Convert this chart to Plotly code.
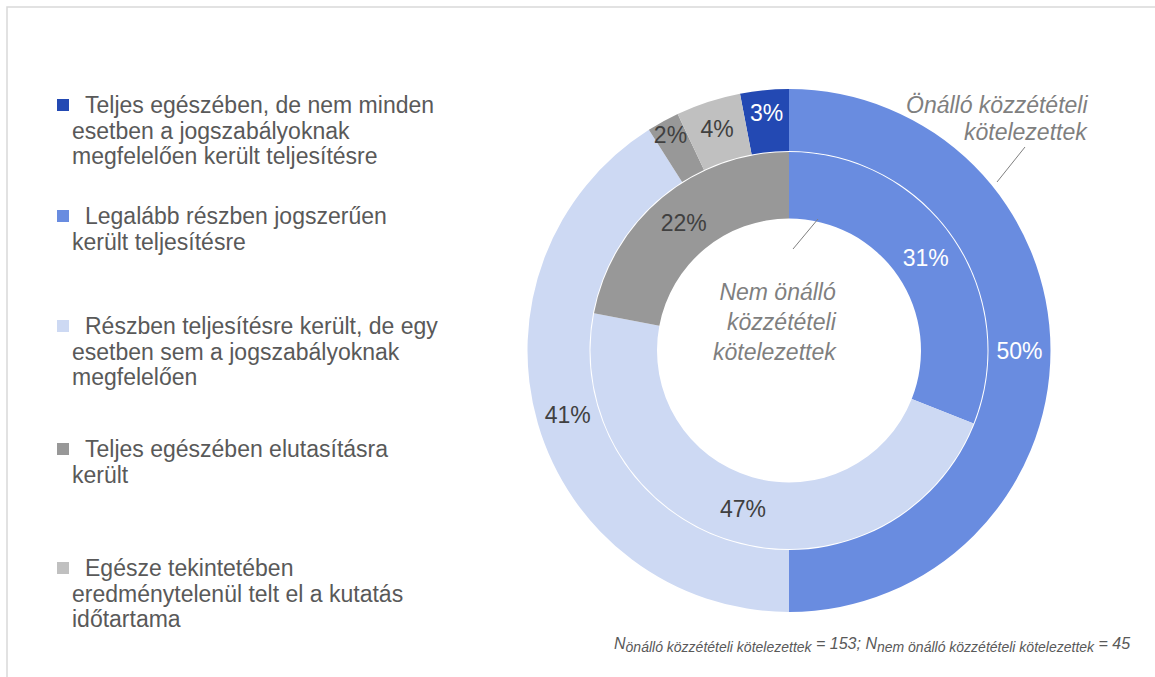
import plotly.graph_objects as go

W, H = 1155, 677

# legend categories (order as in the legend) and their wrapped lines
categories = [
    "Teljes egészében, de nem minden esetben a jogszabályoknak megfelelően került teljesítésre",
    "Legalább részben jogszerűen került teljesítésre",
    "Részben teljesítésre került, de egy esetben sem a jogszabályoknak megfelelően",
    "Teljes egészében elutasításra került",
    "Egésze tekintetében eredménytelenül telt el a kutatás időtartama",
]
legend_lines = [
    ["Teljes egészében, de nem minden", "esetben a jogszabályoknak", "megfelelően került teljesítésre"],
    ["Legalább részben jogszerűen", "került teljesítésre"],
    ["Részben teljesítésre került, de egy", "esetben sem a jogszabályoknak", "megfelelően"],
    ["Teljes egészében elutasításra", "került"],
    ["Egésze tekintetében", "eredménytelenül telt el a kutatás", "időtartama"],
]

# percentages, outer ring = önálló, inner ring = nem önálló
onallo = [3, 50, 41, 2, 4]
nem_onallo = [0, 31, 47, 22, 0]
n_onallo = 153
n_nem_onallo = 45

colors = ["#2349B3", "#698CE0", "#CDD9F3", "#989898", "#C0C0C0"]
text_colors = ["#FFFFFF", "#FFFFFF", "#404040", "#404040", "#404040"]
GREY = "#595959"
FONT = "Liberation Sans, Arial, sans-serif"


def px(x):
    return x / W


def py(y):
    return 1 - y / H


# pie geometry in pixels
cx, cy = 789, 350.5
r_out, r_mid, r_in = 261.5, 199.5, 132


def domain(r):
    return dict(x=[px(cx - r), px(cx + r)], y=[py(cy + r), py(cy - r)])


def pct_text(vals):
    return [f"{v}%" if v else "" for v in vals]


def text_pos(vals):
    return ["inside" if v else "none" for v in vals]


fig = go.Figure()

fig.add_trace(go.Pie(
    labels=categories,
    values=onallo,
    text=pct_text(onallo),
    textinfo="text",
    textposition=text_pos(onallo),
    insidetextorientation="horizontal",
    textfont=dict(size=23, color=text_colors, family=FONT),
    marker=dict(colors=colors, line=dict(width=0)),
    hole=r_mid / r_out,
    domain=domain(r_out),
    sort=False,
    direction="clockwise",
    rotation=-onallo[0] / sum(onallo) * 360,
    showlegend=False,
    name="Önálló közzétételi kötelezettek",
))

fig.add_trace(go.Pie(
    labels=categories,
    values=nem_onallo,
    text=pct_text(nem_onallo),
    textinfo="text",
    textposition=text_pos(nem_onallo),
    insidetextorientation="horizontal",
    textfont=dict(size=23, color=text_colors, family=FONT),
    marker=dict(colors=colors, line=dict(width=0)),
    hole=r_in / (r_mid - 1),
    domain=domain(r_mid - 1),
    sort=False,
    direction="clockwise",
    rotation=0,
    showlegend=False,
    name="Nem önálló közzétételi kötelezettek",
))

annotations = []
shapes = []

# hand made legend (Excel style, one line per annotation)
item_y = [105, 216, 326, 449, 568]
line_gap = 25.7
for lines, y0, col in zip(legend_lines, item_y, colors):
    shapes.append(dict(type="rect", xref="paper", yref="paper",
                       x0=px(57), x1=px(69), y0=py(y0 + 6), y1=py(y0 - 6),
                       fillcolor=col, line=dict(width=0)))
    for i, ln in enumerate(lines):
        annotations.append(dict(
            text=ln, x=px(83.5 if i == 0 else 71), y=py(y0 + i * line_gap),
            xref="paper", yref="paper", xanchor="left", yanchor="middle",
            showarrow=False, borderpad=0,
            font=dict(size=23, color=GREY, family=FONT)))

# ring labels
for i, ln in enumerate(["Önálló közzétételi", "kötelezettek"]):
    annotations.append(dict(
        text=f"<i>{ln}</i>", x=px(1089), y=py(105 + i * 27),
        xref="paper", yref="paper", xanchor="right", yanchor="middle",
        showarrow=False, borderpad=0,
        font=dict(size=23, color="#7F7F7F", family=FONT)))

annotations.append(dict(
    text="<i>Nem önálló<br>közzétételi<br>kötelezettek</i>",
    x=px(838), y=py(322), align="right",
    xref="paper", yref="paper", xanchor="right", yanchor="middle",
    showarrow=False, borderpad=0,
    font=dict(size=23, color="#7F7F7F", family=FONT)))

shapes.append(dict(type="line", xref="paper", yref="paper",
                   x0=px(1025), y0=py(147), x1=px(997), y1=py(182),
                   line=dict(color="#7F7F7F", width=1)))
shapes.append(dict(type="line", xref="paper", yref="paper",
                   x0=px(818), y0=py(219), x1=px(793), y1=py(249),
                   line=dict(color="#7F7F7F", width=1)))

# footnote with sample sizes
sub = '<sub><span style="font-size:14px">{}</span></sub>'
annotations.append(dict(
    text=("<i>N" + sub.format("önálló közzétételi kötelezettek") + f" = {n_onallo}; "
          "N" + sub.format("nem önálló közzétételi kötelezettek") + f" = {n_nem_onallo}</i>"),
    x=px(1131), y=py(645),
    xref="paper", yref="paper", xanchor="right", yanchor="middle",
    showarrow=False, borderpad=0,
    font=dict(size=16, color=GREY, family=FONT)))

# chart frame (only top and left edges are visible)
shapes.append(dict(type="rect", xref="paper", yref="paper",
                   x0=px(7), x1=1.02, y0=-0.02, y1=py(7),
                   line=dict(color="#D9D9D9", width=1.5)))

fig.update_layout(
    width=W,
    height=H,
    margin=dict(l=0, r=0, t=0, b=0),
    paper_bgcolor="white",
    plot_bgcolor="white",
    font=dict(family=FONT, color=GREY),
    uniformtext=dict(minsize=23, mode="show"),
    annotations=annotations,
    shapes=shapes,
)

fig.write_html(
    "out.html",
    config={"displayModeBar": False},
    post_script="document.body.style.margin='0';document.body.style.overflow='hidden';",
)
